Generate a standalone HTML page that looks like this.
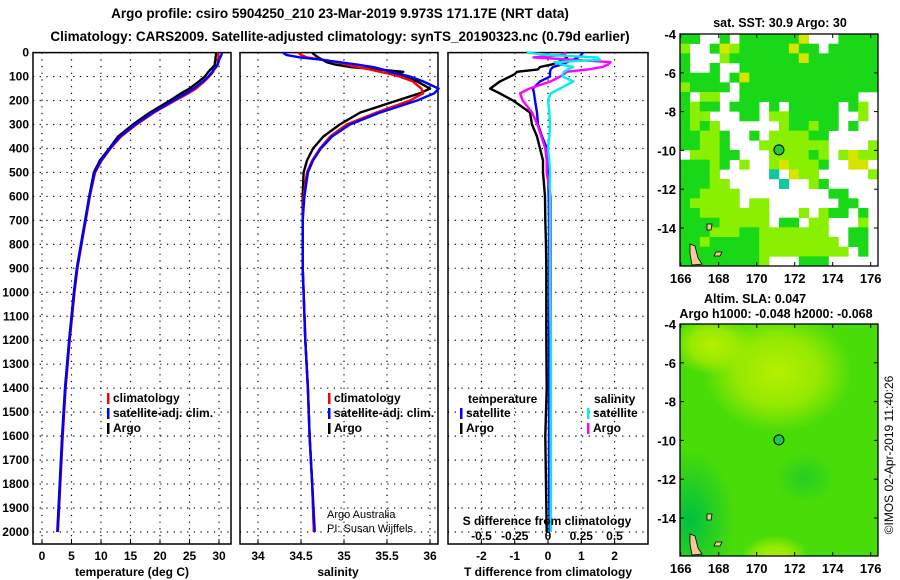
<!DOCTYPE html>
<html><head><meta charset="utf-8"><style>
html,body{margin:0;padding:0;background:#fff;}
svg{display:block;font-family:"Liberation Sans",Arial,sans-serif;}
</style></head><body>
<svg id="s" width="900" height="580" viewBox="0 0 900 580">
<text x="340" y="18" text-anchor="middle" font-size="13.5" font-weight="bold">Argo profile: csiro 5904250_210 23-Mar-2019 9.973S 171.17E (NRT data)</text>
<text x="340" y="41" text-anchor="middle" font-size="13.5" font-weight="bold">Climatology: CARS2009. Satellite-adjusted climatology: synTS_20190323.nc (0.79d earlier)</text>
<g id="maps"></g>
<g id="plots"></g>
<text transform="translate(893,455) rotate(-90)" text-anchor="middle" font-size="12">©IMOS 02-Apr-2019 11:40:26</text>
</svg>
<script>
const depths=[0,10,20,30,40,50,60,70,80,90,100,120,150,170,200,250,300,350,400,450,500,600,700,800,900,1000,1200,1400,1600,1800,2000];
const argoT=[29.5,29.5,29.4,29.4,29.3,29.3,29.0,28.6,28.2,27.9,27.6,26.6,25.0,23.6,21.7,18.3,15.4,12.9,11.4,9.8,8.8,8.0,7.3,6.6,5.9,5.4,4.6,3.9,3.4,3.0,2.6];
const climT=[29.9,29.9,29.9,29.8,29.8,29.7,29.5,29.2,29.0,28.7,28.3,27.5,26.1,24.8,22.6,19.0,16.0,13.4,11.6,10.1,9.0,8.1,7.4,6.7,6.0,5.5,4.7,4.0,3.5,3.1,2.7];
const satT=[30.5,30.4,30.2,30.0,29.9,29.8,29.5,29.1,28.9,28.5,28.2,27.3,25.7,24.4,22.3,18.8,15.8,13.2,11.5,10.0,8.9,8.05,7.35,6.65,5.95,5.45,4.65,3.95,3.45,3.05,2.65];
const argoS=[34.63,34.66,34.7,34.75,34.8,34.9,35.07,35.4,35.69,35.6,35.69,35.85,36.0,35.88,35.62,35.19,34.95,34.76,34.64,34.57,34.53,34.52,34.52,34.52,34.52,34.53,34.55,34.58,34.6,34.63,34.65];
const climS=[34.47,34.5,34.57,34.75,34.92,35.03,35.15,35.3,35.42,35.55,35.65,35.8,35.9,35.92,35.77,35.38,35.03,34.84,34.72,34.63,34.57,34.53,34.52,34.52,34.52,34.53,34.55,34.58,34.6,34.63,34.65];
const satS=[34.29,34.33,34.49,34.75,34.95,35.15,35.34,35.45,35.53,35.65,35.77,35.92,36.1,36.05,35.85,35.42,35.07,34.86,34.73,34.64,34.58,34.54,34.52,34.52,34.52,34.53,34.55,34.58,34.6,34.63,34.66];
const tDiffArgo=[0.45,0.5,0.57,0.45,0.3,0.1,-0.24,-0.3,-0.93,-1.0,-1.14,-1.44,-1.74,-1.45,-1.05,-0.54,-0.48,-0.33,-0.24,-0.15,-0.15,-0.09,-0.08,-0.06,-0.05,-0.05,-0.05,-0.04,-0.08,-0.06,-0.04];
const tDiffSat=[1.05,1.0,0.9,0.75,0.57,0.4,0.15,0.08,0.06,0.06,0.06,-0.24,-0.45,-0.42,-0.39,-0.33,-0.3,-0.18,-0.03,0,0,0.02,0.03,0.03,0.03,0.03,0.03,0.03,0.03,0.03,0.05];
const sDiffArgo=[0.14,0.1,-0.11,0.2,0.47,0.45,0.41,0.3,0.14,0.12,0.09,0.02,-0.14,-0.21,-0.19,-0.12,-0.08,-0.05,-0.02,-0.01,-0.01,0.02,0.02,0.02,0.02,0.02,0.02,0.02,0.02,0.02,0.02];
const sDiffSat=[-0.16,0,0.37,0.39,0.05,0.1,0.19,0.15,0.12,0.11,0.11,0.19,0.09,0.02,0,0.01,0.015,0.01,0,0.01,0.015,0.015,0.015,0.015,0.015,0.015,0.02,0.02,0.02,0.02,0.02];
const depthTicks=[0,100,200,300,400,500,600,700,800,900,1000,1100,1200,1300,1400,1500,1600,1700,1800,1900,2000];
const tempTicks=[0,5,10,15,20,25,30];
const salTicks=[34,34.5,35,35.5,36];
const tDiffTicks=[-2,-1,0,1,2];
const sDiffTicks=[-0.5,-0.25,0,0.25,0.5];
const latTicks=[-4,-6,-8,-10,-12,-14];
const lonTicks=[166,168,170,172,174,176];
const argoLon=171.17, argoLat=-9.973;
const sstGrid=[
"gg..g.ggggggy...gggg","l..gylgggggygg.ggggg","g...lgggggggyggggggg","g..g..gggggggggggggg",
"gggg.gyggggggggggggg","lgggg.gggggggggggggg","g.ll..gggggggggggg..","glgg.ggg.g.ggggg.gl.",
"gll...gg.llggggg..l.","glgl......lgglgg.g..","ggllg..g.llllgg.....","ggllg...lllllll....l",
".lllgg...llllgl.lyll","ggglg.l..lylllg..yy.","gggl.....c.yll.....l","gggll.....c..lg.....",
"ggllll.........gg...","glllll.ll.......gg..","gglllllll...l.lgg.g.","gggglllll.gg.ll...l.",
"ggglllgglllllll..gg.","gglgggggllllllll.gg.","gggggggglllllllll.g.","ggggggggl...ggg....."];

const NS='http://www.w3.org/2000/svg';
const svg=document.getElementById('s');
function mk(tag,at,parent){const e=document.createElementNS(NS,tag);for(const k in at)e.setAttribute(k,at[k]);(parent||svg).appendChild(e);return e;}
function txt(x,y,s,anchor,parent,size,bold){const t=mk('text',{x:x,y:y,'text-anchor':anchor||'middle','font-size':size||12,'font-weight':bold===false?'normal':'bold'},parent);t.textContent=s;return t;}
const Y0=52.6,YS=0.2397,PB=544;
const yD=d=>Y0+d*YS;
const plots=document.getElementById('plots');

function panel(name,x0,x1,xf,ticks,fmt,gridX){
  const g=mk('g',{},plots);
  
  
  depthTicks.forEach(d=>{const l=mk('line',{x1:x0,x2:x1,y1:yD(d),y2:yD(d),stroke:'#000','stroke-width':1.2,'stroke-dasharray':'1.2,5.5'},g);
    
    });
  gridX.forEach(v=>{const l=mk('line',{x1:xf(v),x2:xf(v),y1:Y0,y2:PB,stroke:'#000','stroke-width':1.2,'stroke-dasharray':'1.2,5.5'},g);
    
    });
  const r=mk('rect',{x:x0,y:Y0,width:x1-x0,height:PB-Y0,fill:'none',stroke:'#000','stroke-width':1.5},g);
  
  
  ticks.forEach(v=>{mk('line',{x1:xf(v),x2:xf(v),y1:PB,y2:PB-5,stroke:'#000'},g);
    const t=txt(xf(v),560,fmt(v),'middle',g);
    
    });
  return g;
}
function line(g,xs,xf,color,name){
  const pts=depths.map((d,i)=>xf(xs[i]).toFixed(1)+','+yD(d).toFixed(1)).join(' ');
  const p=mk('polyline',{points:pts,fill:'none',stroke:color,'stroke-width':2.4,'stroke-linejoin':'round'},g);
  
  
}
depthTicks.forEach(d=>{const t=txt(29,yD(d)+4,String(d),'end',plots);
  
  });

const xT=v=>42+v*5.9;
const g1=panel('temperature-panel',33,231,xT,tempTicks,String,tempTicks);
line(g1,argoT,xT,'#000','argo-temperature-line');
line(g1,climT,xT,'#f00','climatology-temperature-line');
line(g1,satT,xT,'#00f','satellite-temperature-line');
txt(132,576,'temperature (deg C)','middle',plots);
function legend(g,x,y,items){
  items.forEach((it,i)=>{
    const yy=y+i*15;
    const m=mk('rect',{x:x,y:yy-9,width:2.5,height:11,fill:it[0]},g);
    
    
    const t=txt(x+6,yy,it[1],'start',g);
    
    
  });
}
legend(g1,107,402,[['#f00','climatology'],['#00f','satellite-adj. clim.'],['#000','Argo']]);

const xS=v=>258+(v-34)*86;
const g2=panel('salinity-panel',240,438,xS,salTicks,String,salTicks);
line(g2,argoS,xS,'#000','argo-salinity-line');
line(g2,climS,xS,'#f00','climatology-salinity-line');
line(g2,satS,xS,'#00f','satellite-salinity-line');
txt(338,576,'salinity','middle',plots);
legend(g2,328,402,[['#f00','climatology'],['#00f','satellite-adj. clim.'],['#000','Argo']]);
const a1=txt(327,518,'Argo Australia','start',g2,11,false);
const a2=txt(327,532,'PI: Susan Wijffels','start',g2,11,false);

const xTD=v=>548+v*33.3;
const xSD=v=>548+v*133;
const g3=panel('difference-panel',448,648,xTD,tDiffTicks,String,tDiffTicks);
line(g3,tDiffArgo,xTD,'#000','argo-temperature-difference-line');
line(g3,tDiffSat,xTD,'#00f','satellite-temperature-difference-line');
line(g3,sDiffArgo,xSD,'#f0f','argo-salinity-difference-line');
line(g3,sDiffSat,xSD,'#0ee','satellite-salinity-difference-line');
txt(548,576,'T difference from climatology','middle',plots);
txt(547,525,'S difference from climatology','middle',g3);
sDiffTicks.forEach(v=>{const t=txt(xSD(v),540,String(v),'middle',g3);
  
  });
txt(468,403,'temperature','start',g3);
legend(g3,460,417,[['#00f','satellite'],['#000','Argo']]);
txt(594,403,'salinity','start',g3);
legend(g3,587,417,[['#0ee','satellite'],['#f0f','Argo']]);

const maps=document.getElementById('maps');
const MX0=680.7,MPX=19,MPY=19.4;
function mapFrame(name){
  const g=mk('g',{},maps);
  
  
  return g;
}
const lx=v=>MX0+(v-166)*MPX;
function axes(g,top,bottom){
  mk('rect',{x:680,y:top,width:198,height:bottom-top,fill:'none',stroke:'#000','stroke-width':1.3},g);
  latTicks.forEach(v=>{const y=top+(-4-v)*MPY;
    mk('line',{x1:680,x2:684,y1:y,y2:y,stroke:'#000'},g);mk('line',{x1:874,x2:878,y1:y,y2:y,stroke:'#000'},g);
    const t=txt(676,y+5,String(v),'end',g,13);
    
    });
  lonTicks.forEach(v=>{const x=lx(v);
    mk('line',{x1:x,x2:x,y1:bottom,y2:bottom-4,stroke:'#000'},g);mk('line',{x1:x,x2:x,y1:top,y2:top+4,stroke:'#000'},g);
    const t=txt(x,bottom+17,String(v),'middle',g,13);
    
    });
  const c=mk('circle',{cx:lx(argoLon),cy:top+(-4-argoLat)*MPY,r:5,fill:'#22c840',stroke:'#000','stroke-width':1},g);
  
  
  const land=[[[690,top+210],[695,top+212],[698,top+224],[702,top+230],[692,top+231],[690,top+220]],[[716,top+218],[722,top+218],[720,top+222],[714,top+222]],[[707,top+190],[712,top+190],[711,top+196],[707,top+196]]];
  land.forEach(pl=>{const p=mk('polygon',{points:pl.map(q=>q.join(',')).join(' '),fill:'#f8c898',stroke:'#000','stroke-width':0.8},g);
    
    });
}
const gs=mapFrame('sst-map');
const cols={g:'#18d818',l:'#88f000',y:'#d8e400',c:'#10c8a0'};
const cw=198/20,ch=232/24;
sstGrid.forEach((row,r)=>{for(let c=0;c<row.length;c++){const k=row[c];if(k==='.')continue;
  mk('rect',{x:680+c*cw,y:34+r*ch,width:cw+0.3,height:ch+0.3,fill:cols[k]},gs);}});
axes(gs,34,266);
txt(780,27,'sat. SST: 30.9 Argo: 30','middle',gs,12.5);
const ga=mapFrame('sla-map');
const defs=mk('defs',{},ga);
defs.innerHTML='<radialGradient id="rg1"><stop offset="0" stop-color="#b8f000"/><stop offset="0.55" stop-color="#a8ec00" stop-opacity="0.8"/><stop offset="1" stop-color="#a8ec00" stop-opacity="0"/></radialGradient><radialGradient id="rg2"><stop offset="0" stop-color="#00c040"/><stop offset="1" stop-color="#00c040" stop-opacity="0"/></radialGradient><clipPath id="cp"><rect x="680" y="324" width="198" height="232"/></clipPath>';
const cg=mk('g',{'clip-path':'url(#cp)'},ga);
mk('rect',{x:680,y:324,width:198,height:232,fill:'#48dc08'},cg);
mk('ellipse',{cx:778,cy:372,rx:75,ry:60,fill:'url(#rg1)'},cg);
mk('ellipse',{cx:712,cy:345,rx:40,ry:30,fill:'url(#rg1)'},cg);
mk('ellipse',{cx:775,cy:560,rx:35,ry:25,fill:'url(#rg1)'},cg);
mk('ellipse',{cx:690,cy:520,rx:45,ry:70,fill:'url(#rg2)'},cg);
mk('ellipse',{cx:805,cy:478,rx:30,ry:25,fill:'url(#rg2)','opacity':0.5},cg);
axes(ga,324,556);
txt(755,303,'Altim. SLA: 0.047','middle',ga,12.5);
txt(776,318,'Argo h1000: -0.048 h2000: -0.068','middle',ga,12.5);
</script>
</body></html>
